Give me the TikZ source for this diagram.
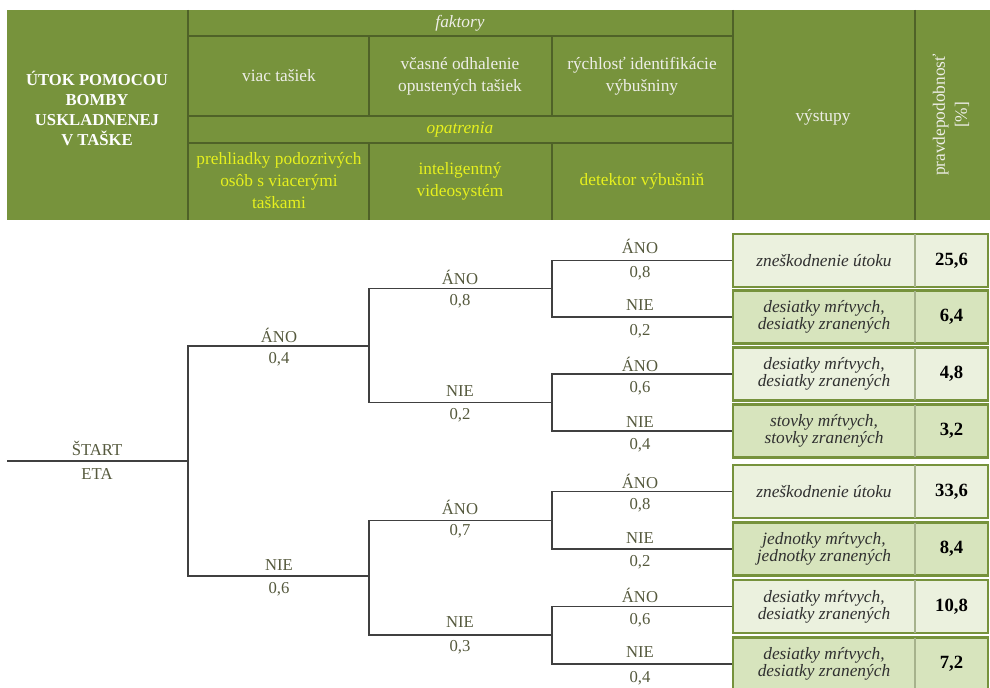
\documentclass[tikz,border=0pt]{standalone}
\usepackage{fontspec}
\setmainfont{Liberation Serif}
\definecolor{hdrfill}{HTML}{77933C}
\definecolor{hdrline}{HTML}{4F6228}
\definecolor{hdrtext}{HTML}{EEEEE8}
\definecolor{opttext}{HTML}{E6F01E}
\definecolor{treeline}{HTML}{404040}
\definecolor{treetext}{HTML}{55593D}
\definecolor{boxlight}{HTML}{EBF1DE}
\definecolor{boxdark}{HTML}{D7E4BD}
\definecolor{boxborder}{HTML}{76923C}
\definecolor{boxdiv}{HTML}{A6B28C}
\definecolor{boxtext}{HTML}{303030}
\begin{document}
\begin{tikzpicture}[x=0.75pt,y=-0.75pt,
  hdrrule/.style={draw=hdrline,line width=1.6pt},
  hdrtxt/.style={text=hdrtext,align=center,inner sep=0pt,font=\fontsize{13}{16.5}\selectfont},
  opttxt/.style={text=opttext,align=center,inner sep=0pt,font=\fontsize{13}{16.5}\selectfont},
  tline/.style={draw=treeline,line width=1.1pt},
  lbl/.style={text=treetext,inner sep=0pt,font=\fontsize{12.5}{14}\selectfont},
  outbox/.style={draw=boxborder,line width=1.9pt,minimum width=191.25pt,minimum height=39.75pt,inner sep=0pt},
  outtxt/.style={text=boxtext,align=center,inner sep=0pt,font=\fontsize{13}{12.8}\selectfont\itshape},
  outnum/.style={text=black,inner sep=0pt,font=\fontsize{14}{15}\selectfont\bfseries},
  divline/.style={draw=boxdiv,line width=1.3pt}]
\useasboundingbox (0,0) rectangle (990,688);
% ---------- header ----------
\fill[hdrfill] (7,10) rectangle (990,220);
\draw[hdrrule] (188,10) -- (188,220);
\draw[hdrrule] (733,10) -- (733,220);
\draw[hdrrule] (915,10) -- (915,220);
\draw[hdrrule] (188,36) -- (733,36);
\draw[hdrrule] (188,116) -- (733,116);
\draw[hdrrule] (188,143) -- (733,143);
\draw[hdrrule] (369,36) -- (369,116);
\draw[hdrrule] (552,36) -- (552,116);
\draw[hdrrule] (369,143) -- (369,220);
\draw[hdrrule] (552,143) -- (552,220);
\node[hdrtxt,font=\fontsize{12.5}{15}\selectfont\bfseries,text=white!95!hdrtext] (title) at (97,108) {ÚTOK POMOCOU\\BOMBY\\USKLADNENEJ\\V TAŠKE};
\node[hdrtxt,font=\fontsize{13}{16}\selectfont\itshape] (fak) at (460,23) {faktory};
\node[hdrtxt] (f1) at (279,76) {viac tašiek};
\node[hdrtxt] (f2) at (460,76) {včasné odhalenie\\opustených tašiek};
\node[hdrtxt] (f3) at (642,76) {rýchlosť identifikácie\\výbušniny};
\node[opttxt,font=\fontsize{13}{16}\selectfont\itshape] (opa) at (460,129.5) {opatrenia};
\node[opttxt] (m1) at (279,181) {prehliadky podozrivých\\osôb s viacerými\\taškami};
\node[opttxt] (m2) at (460,181) {inteligentný\\videosystém};
\node[opttxt] (m3) at (642,181) {detektor výbušniň};
\node[hdrtxt] (vys) at (823,117) {výstupy};
\node[hdrtxt,rotate=90] (prob) at (951,115) {pravdepodobnosť\\{[\%]}};
% ---------- outcome boxes ----------
\node[outbox,fill=boxlight] (b1) at (860.5,260.5) {};
\node[outbox,fill=boxdark]  (b2) at (860.5,317) {};
\node[outbox,fill=boxlight] (b3) at (860.5,374) {};
\node[outbox,fill=boxdark]  (b4) at (860.5,431) {};
\node[outbox,fill=boxlight] (b5) at (860.5,491.5) {};
\node[outbox,fill=boxdark]  (b6) at (860.5,549) {};
\node[outbox,fill=boxlight] (b7) at (860.5,606.5) {};
\node[outbox,fill=boxdark]  (b8) at (860.5,664) {};
\foreach \b in {b1,b2,b3,b4,b5,b6,b7,b8}{
  \draw[divline] ([xshift=40.9pt,yshift=-1pt]\b.north) -- ([xshift=40.9pt,yshift=1pt]\b.south);
}
\node[outtxt] (t1) at (824,260.5) {zneškodnenie útoku};
\node[outtxt] (t2) at (824,317) {desiatky mŕtvych,\\desiatky zranených};
\node[outtxt] (t3) at (824,374) {desiatky mŕtvych,\\desiatky zranených};
\node[outtxt] (t4) at (824,431) {stovky mŕtvych,\\stovky zranených};
\node[outtxt] (t5) at (824,491.5) {zneškodnenie útoku};
\node[outtxt] (t6) at (824,549) {jednotky mŕtvych,\\jednotky zranených};
\node[outtxt] (t7) at (824,606.5) {desiatky mŕtvych,\\desiatky zranených};
\node[outtxt] (t8) at (824,664) {desiatky mŕtvych,\\desiatky zranených};
\node[outnum] (p1) at (951.5,260.5) {25,6};
\node[outnum] (p2) at (951.5,317) {6,4};
\node[outnum] (p3) at (951.5,374) {4,8};
\node[outnum] (p4) at (951.5,431) {3,2};
\node[outnum] (p5) at (951.5,491.5) {33,6};
\node[outnum] (p6) at (951.5,549) {8,4};
\node[outnum] (p7) at (951.5,606.5) {10,8};
\node[outnum] (p8) at (951.5,664) {7,2};
% ---------- tree ----------
\coordinate (s0) at (7,461);
\coordinate (j0) at (188,461);
\coordinate (j1a) at (369,346);
\coordinate (j1b) at (369,576);
\coordinate (j2a) at (552,288.75);
\coordinate (j2b) at (552,402.5);
\coordinate (j2c) at (552,520.25);
\coordinate (j2d) at (552,635);
\draw[tline] (s0) -- (j0);
\draw[tline] (j0) |- (j1a);
\draw[tline] (j0) |- (j1b);
\draw[tline] (j1a) |- (j2a);
\draw[tline] (j1a) |- (j2b);
\draw[tline] (j1b) |- (j2c);
\draw[tline] (j1b) |- (j2d);
\draw[tline] (j2a) |- (b1.west);
\draw[tline] (j2a) |- (b2.west);
\draw[tline] (j2b) |- (b3.west);
\draw[tline] (j2b) |- (b4.west);
\draw[tline] (j2c) |- (b5.west);
\draw[tline] (j2c) |- (b6.west);
\draw[tline] (j2d) |- (b7.west);
\draw[tline] (j2d) |- (b8.west);
% labels
\node[lbl] (ls1) at (97,448) {ŠTART};
\node[lbl] (ls2) at (97,474) {ETA};
\node[lbl] (la1) at (279,335) {ÁNO};
\node[lbl] (la2) at (279,359) {0,4};
\node[lbl] (lb1) at (279,565) {NIE};
\node[lbl] (lb2) at (279,589) {0,6};
\node[lbl] (lc1) at (460,277) {ÁNO};
\node[lbl] (lc2) at (460,301) {0,8};
\node[lbl] (ld1) at (460,391) {NIE};
\node[lbl] (ld2) at (460,415) {0,2};
\node[lbl] (le1) at (460,507) {ÁNO};
\node[lbl] (le2) at (460,531) {0,7};
\node[lbl] (lf1) at (460,622) {NIE};
\node[lbl] (lf2) at (460,647) {0,3};
\node[lbl] (g1a) at (640,246) {ÁNO};
\node[lbl] (g1b) at (640,273) {0,8};
\node[lbl] (g2a) at (640,305) {NIE};
\node[lbl] (g2b) at (640,331) {0,2};
\node[lbl] (g3a) at (640,364) {ÁNO};
\node[lbl] (g3b) at (640,388) {0,6};
\node[lbl] (g4a) at (640,422) {NIE};
\node[lbl] (g4b) at (640,445) {0,4};
\node[lbl] (g5a) at (640,481) {ÁNO};
\node[lbl] (g5b) at (640,505) {0,8};
\node[lbl] (g6a) at (640,538) {NIE};
\node[lbl] (g6b) at (640,562) {0,2};
\node[lbl] (g7a) at (640,595) {ÁNO};
\node[lbl] (g7b) at (640,620) {0,6};
\node[lbl] (g8a) at (640,652) {NIE};
\node[lbl] (g8b) at (640,678) {0,4};
\end{tikzpicture}
\end{document}
